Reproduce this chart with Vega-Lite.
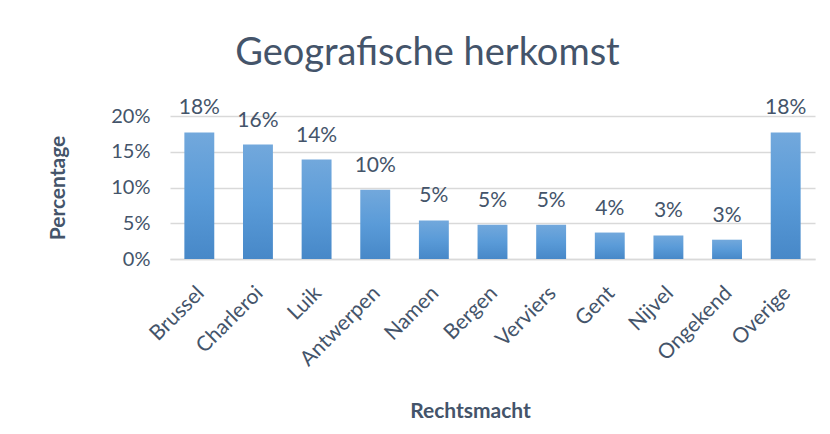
{
  "$schema": "https://vega.github.io/schema/vega-lite/v6.json",
  "width": 645,
  "height": 143,
  "autosize": {"type": "none"},
  "padding": {"left": 170, "top": 116, "right": 15, "bottom": 175},
  "background": "white",
  "title": {
    "text": "Geografische herkomst",
    "font": "Lato",
    "fontSize": 38,
    "fontWeight": "normal",
    "color": "#44546A",
    "anchor": "middle",
    "frame": "group",
    "dx": -65,
    "offset": 24
  },
  "data": {
    "values": [
      {"plaats": "Brussel", "pct": 0.177},
      {"plaats": "Charleroi", "pct": 0.160},
      {"plaats": "Luik", "pct": 0.139},
      {"plaats": "Antwerpen", "pct": 0.097},
      {"plaats": "Namen", "pct": 0.054},
      {"plaats": "Bergen", "pct": 0.048},
      {"plaats": "Verviers", "pct": 0.048},
      {"plaats": "Gent", "pct": 0.037},
      {"plaats": "Nijvel", "pct": 0.033},
      {"plaats": "Ongekend", "pct": 0.027},
      {"plaats": "Overige", "pct": 0.177}
    ]
  },
  "encoding": {
    "x": {
      "field": "plaats",
      "type": "nominal",
      "sort": null,
      "scale": {"paddingInner": 0.49, "paddingOuter": 0.245},
      "axis": {
        "title": "Rechtsmacht",
        "titleFont": "Lato",
        "titleFontSize": 21,
        "titleFontWeight": "bold",
        "titleColor": "#44546A",
        "titleX": 300,
        "titleY": 158,
        "titleBaseline": "alphabetic",
        "labelAngle": -45,
        "labelAlign": "right",
        "labelBaseline": "top",
        "labelFont": "Lato",
        "labelFontSize": 21,
        "labelColor": "#44546A",
        "labelPadding": 23,
        "labelOffset": -6,
        "ticks": false,
        "domain": true,
        "domainColor": "#D9D9D9",
        "domainWidth": 1.5,
        "grid": false
      }
    },
    "y": {
      "field": "pct",
      "type": "quantitative",
      "scale": {"domain": [0, 0.2]},
      "axis": {
        "title": "Percentage",
        "titleFont": "Lato",
        "titleFontSize": 21,
        "titleFontWeight": "bold",
        "titleColor": "#44546A",
        "titlePadding": 42,
        "format": ".0%",
        "values": [0, 0.05, 0.1, 0.15, 0.2],
        "labelFont": "Lato",
        "labelFontSize": 20,
        "labelColor": "#44546A",
        "labelPadding": 20,
        "ticks": false,
        "domain": false,
        "grid": true,
        "gridColor": "#D9D9D9",
        "gridWidth": 1.5
      }
    }
  },
  "layer": [
    {
      "mark": {
        "type": "bar",
        "color": {
          "gradient": "linear",
          "x1": 0, "y1": 0, "x2": 0, "y2": 1,
          "stops": [
            {"offset": 0, "color": "#72A8DC"},
            {"offset": 0.5, "color": "#5A9BD8"},
            {"offset": 1, "color": "#4788C8"}
          ]
        }
      }
    },
    {
      "mark": {
        "type": "text",
        "font": "Lato",
        "fontSize": 21,
        "color": "#44546A",
        "baseline": "alphabetic",
        "dy": -18
      },
      "encoding": {
        "text": {"field": "pct", "type": "quantitative", "format": ".0%"}
      }
    }
  ],
  "config": {"view": {"stroke": null}}
}
